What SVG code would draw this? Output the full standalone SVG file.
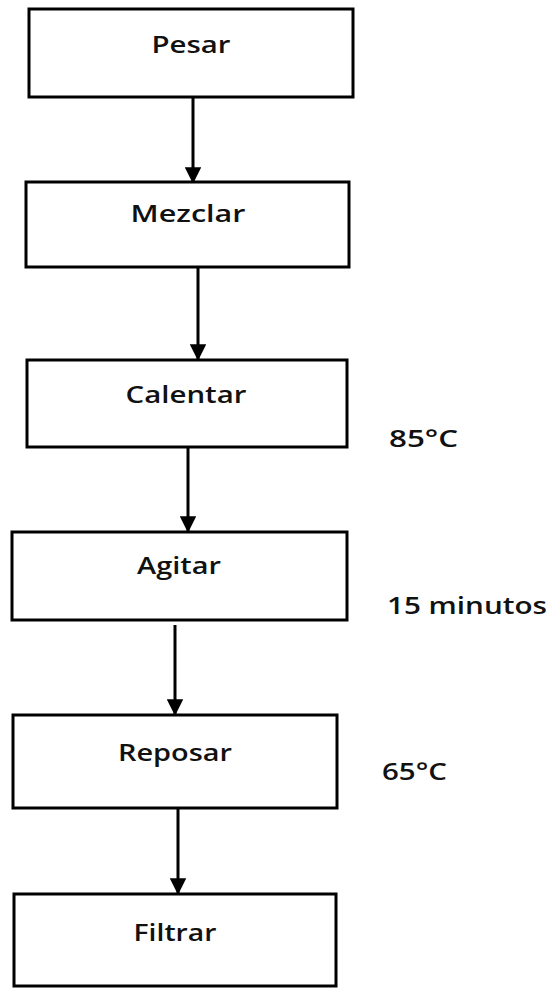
<svg xmlns="http://www.w3.org/2000/svg" width="554" height="988" viewBox="0 0 554 988">
<defs>
<style>
.box{fill:#fff;stroke:#000;stroke-width:3}
.lbl{font-family:"Open Sans","DejaVu Sans",sans-serif;font-size:23px;font-weight:600;fill:#111;text-anchor:middle}
.side{font-family:"Open Sans","DejaVu Sans",sans-serif;font-size:23px;font-weight:600;fill:#111}
.conn{stroke:#000;stroke-width:3;fill:none;marker-end:url(#ah)}
</style>
<marker id="ah" viewBox="0 0 10 10" refX="9" refY="5" markerWidth="5.5" markerHeight="5.5" orient="auto" markerUnits="strokeWidth">
<path d="M0,0 L10,5 L0,10 z" fill="#000"/>
</marker>
</defs>
<rect width="554" height="988" fill="#fff"/>
<g id="connectors">
<line class="conn" x1="193" y1="97" x2="193" y2="182"/>
<line class="conn" x1="198" y1="267" x2="198" y2="359"/>
<line class="conn" x1="188" y1="447" x2="188" y2="531"/>
<line class="conn" x1="175" y1="625" x2="175" y2="714"/>
<line class="conn" x1="178" y1="808" x2="178" y2="893"/>
</g>
<g id="pesar"><rect class="box" x="29" y="9" width="324" height="88"/><text class="lbl" x="191" y="53" textLength="79" lengthAdjust="spacingAndGlyphs">Pesar</text></g>
<g id="mezclar"><rect class="box" x="26" y="182" width="323" height="85"/><text class="lbl" x="188" y="222" textLength="115" lengthAdjust="spacingAndGlyphs">Mezclar</text></g>
<g id="calentar"><rect class="box" x="27" y="360" width="320" height="87"/><text class="lbl" x="186" y="403" textLength="121" lengthAdjust="spacingAndGlyphs">Calentar</text></g>
<g id="agitar"><rect class="box" x="12" y="532" width="335" height="88"/><text class="lbl" x="179" y="574" textLength="84" lengthAdjust="spacingAndGlyphs">Agitar</text></g>
<g id="reposar"><rect class="box" x="13" y="715" width="324" height="93"/><text class="lbl" x="175" y="761" textLength="114" lengthAdjust="spacingAndGlyphs">Reposar</text></g>
<g id="filtrar"><rect class="box" x="14" y="894" width="322" height="92"/><text class="lbl" x="175" y="941" textLength="83" lengthAdjust="spacingAndGlyphs">Filtrar</text></g>
<g id="notes">
<text class="side" x="389" y="447" textLength="69" lengthAdjust="spacingAndGlyphs">85°C</text>
<text class="side" x="387" y="614" textLength="160" lengthAdjust="spacingAndGlyphs">15 minutos</text>
<text class="side" x="382" y="780" textLength="65" lengthAdjust="spacingAndGlyphs">65°C</text>
</g>
</svg>
